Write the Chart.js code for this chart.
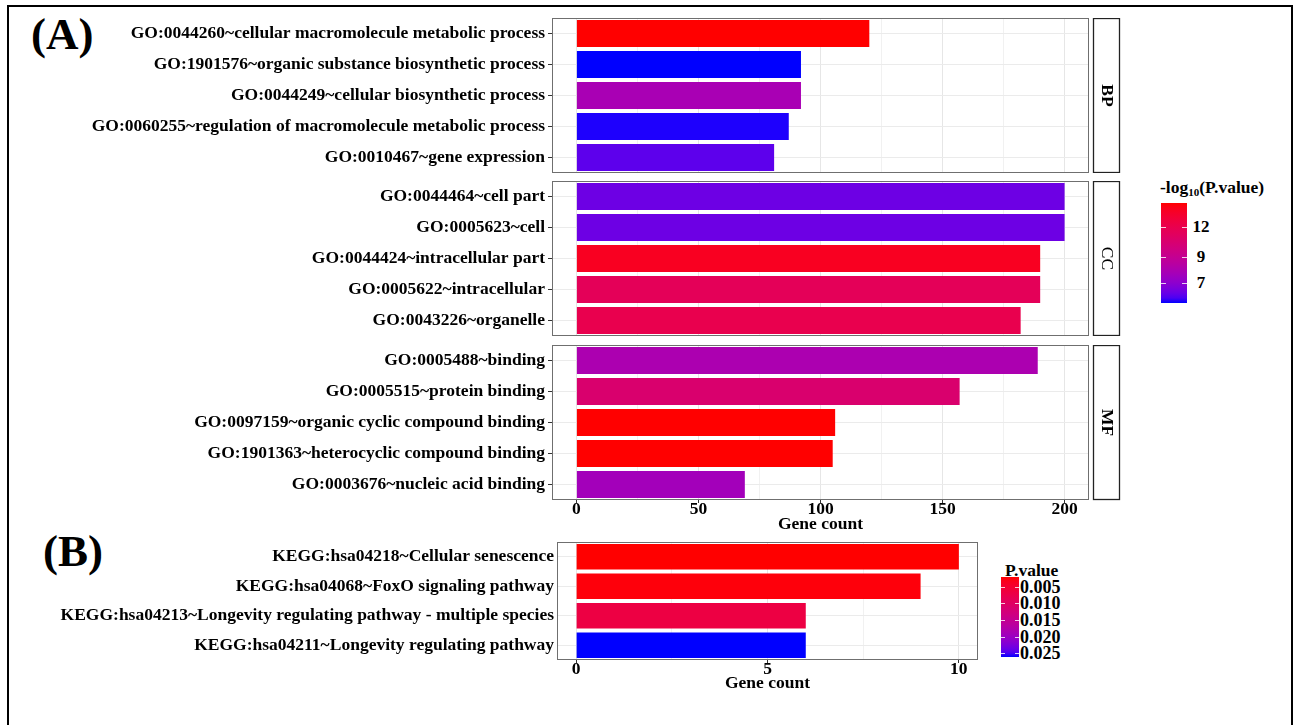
<!DOCTYPE html>
<html><head><meta charset="utf-8">
<script src="https://cdn.jsdelivr.net/npm/chart.js@4.4.1/dist/chart.umd.min.js"></script>
<style>
html,body{margin:0;padding:0;background:#fff;}
#page{position:relative;width:1295px;height:725px;overflow:hidden;background:#fff;font-family:'Liberation Serif','Times New Roman',serif;}
canvas{position:absolute;}
.abs{position:absolute;white-space:nowrap;font-weight:bold;color:#000;}
</style></head><body>
<div id="page">
 <div style="position:absolute;left:7px;top:5px;width:1286px;height:760px;border:2px solid #000;box-sizing:border-box;"></div>
 <div class="abs" style="left:31px;top:12px;font-size:45px;line-height:45px;">(A)</div>
 <div class="abs" style="left:43px;top:529px;font-size:45px;line-height:45px;">(B)</div>
 <canvas id="cBP" width="1125" height="155" style="left:0;top:18px"></canvas>
 <canvas id="cCC" width="1125" height="155" style="left:0;top:181px"></canvas>
 <canvas id="cMF" width="1125" height="190" style="left:0;top:345px"></canvas>
 <canvas id="cKEGG" width="978" height="152" style="left:0;top:542px"></canvas>
 <div id="legA"></div>
 <div id="legB"></div>
</div>
<script>
// ---------- data ----------
const bpTerms = ["GO:0044260~cellular macromolecule metabolic process","GO:1901576~organic substance biosynthetic process","GO:0044249~cellular biosynthetic process","GO:0060255~regulation of macromolecule metabolic process","GO:0010467~gene expression"];
const bpCounts = [120, 92, 92, 87, 81];
const bpLogP = [15.2, 5.75, 7.8, 5.8, 6.2];

const ccTerms = ["GO:0044464~cell part","GO:0005623~cell","GO:0044424~intracellular part","GO:0005622~intracellular","GO:0043226~organelle"];
const ccCounts = [200, 200, 190, 190, 182];
const ccLogP = [6.4, 6.4, 14.2, 11.5, 12.0];

const mfTerms = ["GO:0005488~binding","GO:0005515~protein binding","GO:0097159~organic cyclic compound binding","GO:1901363~heterocyclic compound binding","GO:0003676~nucleic acid binding"];
const mfCounts = [189, 157, 106, 105, 69];
const mfLogP = [7.9, 10.5, 15.2, 15.2, 7.6];

const keggTerms = ["KEGG:hsa04218~Cellular senescence","KEGG:hsa04068~FoxO signaling pathway","KEGG:hsa04213~Longevity regulating pathway - multiple species","KEGG:hsa04211~Longevity regulating pathway"];
const keggCounts = [10, 9, 6, 6];
const keggP = [0.0020, 0.0024, 0.0068, 0.0262];

const goCountTicks = [0, 50, 100, 150, 200];
const keggCountTicks = [0, 5, 10];
const logPLegendTicks = [12, 9, 7];
const pLegendTicks = [0.005, 0.010, 0.015, 0.020, 0.025];

// ---------- colour ramp (Lab interpolation red -> blue) ----------
function toLin(c){c/=255;return c<=0.04045?c/12.92:Math.pow((c+0.055)/1.055,2.4);}
function fromLin(v){v=Math.min(1,Math.max(0,v));const s=v<=0.0031308?12.92*v:1.055*Math.pow(v,1/2.4)-0.055;return Math.round(s*255);}
const Xn=0.95047,Yn=1,Zn=1.08883;
function lf(t){return t>216/24389?Math.cbrt(t):(24389/27*t+16)/116;}
function lfi(t){const t3=t*t*t;return t3>216/24389?t3:(116*t-16)/(24389/27);}
function rgb2lab(r,g,b){const R=toLin(r),G=toLin(g),B=toLin(b);
 const X=0.4124564*R+0.3575761*G+0.1804375*B,Y=0.2126729*R+0.7151522*G+0.0721750*B,Z=0.0193339*R+0.1191920*G+0.9503041*B;
 const fx=lf(X/Xn),fy=lf(Y/Yn),fz=lf(Z/Zn);return [116*fy-16,500*(fx-fy),200*(fy-fz)];}
function lab2rgb(L,a,b){const fy=(L+16)/116,fx=fy+a/500,fz=fy-b/200;
 const X=Xn*lfi(fx),Y=Yn*lfi(fy),Z=Zn*lfi(fz);
 const R=3.2404542*X-1.5371385*Y-0.4985314*Z,G=-0.9692660*X+1.8760108*Y+0.0415560*Z,B=0.0556434*X-0.2040259*Y+1.0572252*Z;
 return 'rgb('+fromLin(R)+','+fromLin(G)+','+fromLin(B)+')';}
const LR=rgb2lab(255,0,0), LB=rgb2lab(0,0,255);
function ramp(t){t=Math.min(1,Math.max(0,t));return lab2rgb(LR[0]+(LB[0]-LR[0])*t,LR[1]+(LB[1]-LR[1])*t,LR[2]+(LB[2]-LR[2])*t);}

// A: -log10(P) on log scale, high = red
const allLogP = bpLogP.concat(ccLogP, mfLogP);
const lpMin = Math.min(...allLogP), lpMax = Math.max(...allLogP);
function sA(v){return (Math.log(v)-Math.log(lpMin))/(Math.log(lpMax)-Math.log(lpMin));}
function colA(v){return ramp(1-sA(v));}
// B: P value linear, low = red
const pMin = Math.min(...keggP), pMax = Math.max(...keggP);
function tB(p){return (p-pMin)/(pMax-pMin);}
function colB(p){return ramp(tB(p));}

// ---------- chart setup ----------
const FONT="'Liberation Serif','Times New Roman',serif";
Chart.defaults.font.family=FONT;
Chart.defaults.font.size=17.5;
Chart.defaults.font.weight='bold';
Chart.defaults.color='#000';

const framePlugin={
 id:'frame',
 afterDraw(chart,args,opts){
  const ctx=chart.ctx,a=chart.chartArea;
  ctx.save();
  ctx.strokeStyle='#6f6f6f';ctx.lineWidth=1;
  const l=Math.round(a.left)+0.5,t=Math.round(a.top)+0.5,r=Math.round(a.right)-0.5,b=Math.round(a.bottom)-0.5;
  ctx.strokeRect(l,t,r-l,b-t);
  if(opts.strip){
   const sx=Math.round(a.right)+4.5,sw=26;
   ctx.fillStyle='#fff';ctx.fillRect(sx,t,sw,b-t);
   ctx.strokeStyle='#222';ctx.lineWidth=1.3;ctx.strokeRect(sx,t,sw,b-t);
   ctx.translate(sx+sw/2,(t+b)/2);ctx.rotate(Math.PI/2);
   ctx.fillStyle='#000';ctx.textAlign='center';ctx.textBaseline='middle';
   ctx.font=(opts.stripBold?'bold ':'normal ')+'17.5px '+FONT;
   ctx.fillText(opts.strip,0,0);
  }
  ctx.restore();
 }
};

function gridValues(majors){
 const g=majors.slice();
 for(let i=0;i<majors.length-1;i++)g.push((majors[i]+majors[i+1])/2);
 return g.sort((a,b)=>a-b);
}

function panel(id,terms,counts,colors,o){
 const gv=gridValues(o.majors);
 return new Chart(document.getElementById(id),{
  type:'bar',
  data:{labels:terms,datasets:[{data:counts,backgroundColor:colors,borderWidth:0,barPercentage:o.barPct,categoryPercentage:1}]},
  options:{
   indexAxis:'y',responsive:false,animation:false,devicePixelRatio:1,
   layout:{padding:{top:0,bottom:0,left:0,right:o.padRight}},
   plugins:{legend:{display:false},tooltip:{enabled:false},frame:{strip:o.strip,stripBold:o.stripBold}},
   scales:{
    x:{type:'linear',min:o.xmin,max:o.xmax,position:'bottom',
     afterBuildTicks:s=>{s.ticks=gv.map(v=>({value:v}));},
     afterFit:s=>{s.height=o.xHeight;s.paddingLeft=0;s.paddingRight=0;},
     grid:{color:c=>o.majors.includes(c.tick&&c.tick.value)?'#e6e6e6':'#f1f1f1',lineWidth:1,drawTicks:o.showX,tickLength:3,
       tickColor:c=>o.majors.includes(c.tick&&c.tick.value)?'#333':'rgba(0,0,0,0)'},
     border:{display:false},
     ticks:{display:o.showX,autoSkip:false,maxRotation:0,padding:-2,callback:v=>o.majors.includes(v)?String(v):'',font:{size:17.5,weight:'bold',lineHeight:1}},
     title:{display:o.showX,text:'Gene count',padding:{top:0,bottom:0},font:{size:17.5,weight:'bold'}}
    },
    y:{type:'category',position:'left',
     afterFit:s=>{s.width=o.yWidth;s.paddingTop=0;s.paddingBottom=0;},
     grid:{offset:false,color:'#ebebeb',lineWidth:1,drawTicks:o.yTicks,tickLength:4,tickColor:'#333'},
     border:{display:false},
     ticks:{autoSkip:false,padding:3,font:{size:17.5,weight:'bold'}}
    }
   }
  },
  plugins:[framePlugin]
 });
}

const goMax=Math.max(...goCountTicks,...bpCounts,...ccCounts,...mfCounts), goPad=0.05*goMax;
const optA={xmin:-goPad,xmax:goMax+goPad,majors:goCountTicks,barPct:0.87,padRight:36,yWidth:552,yTicks:true};
panel('cBP',bpTerms,bpCounts,bpLogP.map(colA),Object.assign({},optA,{xHeight:0,showX:false,strip:'BP',stripBold:true}));
panel('cCC',ccTerms,ccCounts,ccLogP.map(colA),Object.assign({},optA,{xHeight:0,showX:false,strip:'CC',stripBold:false}));
panel('cMF',mfTerms,mfCounts,mfLogP.map(colA),Object.assign({},optA,{xHeight:35,showX:true,strip:'MF',stripBold:true}));

const kMax=Math.max(...keggCountTicks,...keggCounts), kPad=0.05*kMax;
panel('cKEGG',keggTerms,keggCounts,keggP.map(colB),{xmin:-kPad,xmax:kMax+kPad,majors:keggCountTicks,barPct:0.86,padRight:0,yWidth:557,yTicks:false,xHeight:34,showX:true,strip:null});

// ---------- legends ----------
function gradCSS(){const st=[];for(let i=0;i<=20;i++){st.push(ramp(i/20)+' '+(i*5)+'%');}return 'linear-gradient(to bottom,'+st.join(',')+')';}
function addDiv(parent,style,html){const d=document.createElement('div');d.style.cssText=style;if(html!==undefined)d.innerHTML=html;parent.appendChild(d);return d;}
const page=document.getElementById('page');

// Legend A
const la={x:1161,y:203,w:26,h:100};
addDiv(page,'position:absolute;left:1160px;top:177px;font-weight:bold;font-size:17.5px;line-height:20px;white-space:nowrap;',
 '-log<span style="font-size:11px;position:relative;top:3px;">10</span>(P.value)');
addDiv(page,`position:absolute;left:${la.x}px;top:${la.y}px;width:${la.w}px;height:${la.h}px;background:${gradCSS()};`);
logPLegendTicks.forEach(v=>{
 const y=la.y+(1-sA(v))*la.h;
 addDiv(page,`position:absolute;left:${la.x}px;top:${Math.round(y)}px;width:5px;height:1px;background:rgba(255,255,255,0.8);`);
 addDiv(page,`position:absolute;left:${la.x+la.w-5}px;top:${Math.round(y)}px;width:5px;height:1px;background:rgba(255,255,255,0.8);`);
 addDiv(page,`position:absolute;left:1186px;width:30px;text-align:center;top:${(y-9).toFixed(1)}px;font-weight:bold;font-size:17px;line-height:18px;`,String(v));
});

// Legend B
const lb={x:1001,y:577,w:18,h:80};
addDiv(page,'position:absolute;left:1005px;top:560px;font-weight:bold;font-size:17.5px;line-height:20px;white-space:nowrap;','P.value');
addDiv(page,`position:absolute;left:${lb.x}px;top:${lb.y}px;width:${lb.w}px;height:${lb.h}px;background:${gradCSS()};`);
pLegendTicks.forEach(p=>{
 const y=lb.y+tB(p)*lb.h;
 addDiv(page,`position:absolute;left:${lb.x}px;top:${Math.round(y)}px;width:4px;height:1px;background:rgba(255,255,255,0.8);`);
 addDiv(page,`position:absolute;left:${lb.x+lb.w-4}px;top:${Math.round(y)}px;width:4px;height:1px;background:rgba(255,255,255,0.8);`);
 addDiv(page,`position:absolute;left:1020px;top:${(y-9).toFixed(1)}px;font-weight:bold;font-size:18px;line-height:18px;`,p.toFixed(3));
});
</script>
</body></html>
